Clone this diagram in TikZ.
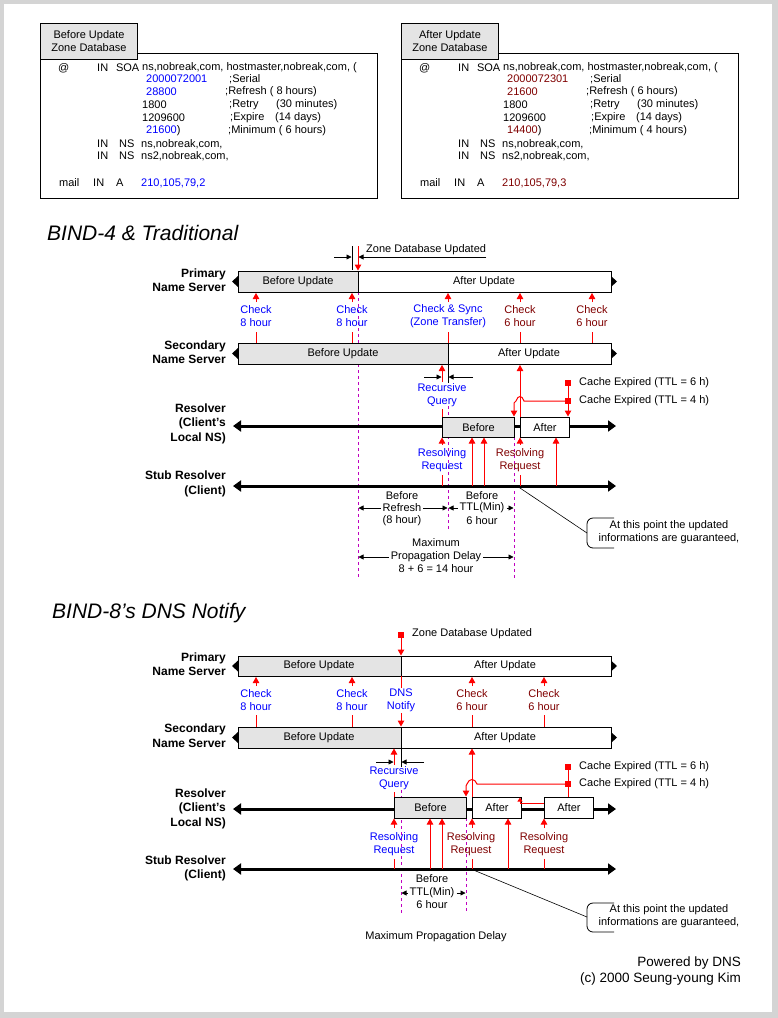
\documentclass[tikz,border=0pt]{standalone}
\usepackage{fontspec}
\setmainfont{Liberation Sans}
\usetikzlibrary{arrows.meta}
\definecolor{bblue}{RGB}{0,0,255}
\definecolor{dred}{RGB}{128,0,0}
\definecolor{rred}{RGB}{255,0,0}
\definecolor{mag}{RGB}{192,0,192}
\definecolor{gfill}{RGB}{228,228,228}
\definecolor{framec}{RGB}{212,212,212}
\newcommand{\zbox}[9]{%
\begin{scope}[shift={(#1,0)}]
\draw[line width=1pt] (40,53) rectangle (377,198);
\node[txt, draw, fill=gfill, line width=1pt, minimum width=97pt, minimum height=36pt, anchor=north west] (tab#1) at (40,23) {#2};
\node[lt] at (58,68) {@};
\node[lt] at (97,68) {IN};
\node[txt, anchor=east] at (139.5,68) {SOA};
\node[lt] at (142,68) {ns,nobreak,com, hostmaster,nobreak,com, (};
\node[lt,text=#3] at (146,79) {#4};
\node[lt] at (229,79) {;Serial};
\node[lt,text=#3] at (146,92) {#5};
\node[lt] at (225,92) {;Refresh ( #6 hours)};
\node[lt] at (142,105) {1800};
\node[lt] at (229,105) {;Retry};
\node[lt] at (276,105) {(30 minutes)};
\node[lt] at (142,118) {1209600};
\node[lt] at (230,118) {;Expire};
\node[lt] at (275,118) {(14 days)};
\node[lt] at (146,131) {\textcolor{#3}{#7})};
\node[lt] at (228,131) {;Minimum ( #8 hours)};
\node[lt] at (97,144) {IN};
\node[lt] at (119,144) {NS};
\node[lt] at (141,144) {ns,nobreak,com,};
\node[lt] at (97,156) {IN};
\node[lt] at (119,156) {NS};
\node[lt] at (141,156) {ns2,nobreak,com,};
\node[lt] at (59,183) {mail};
\node[lt] at (93,183) {IN};
\node[lt] at (116,183) {A};
\node[lt,text=#3] at (141,183) {#9};
\end{scope}}
\newcommand{\tbar}[4]{%
\fill[gfill] (238,#1) rectangle (#4,#3);
\draw[line width=1pt] (238,#1) rectangle (611,#3);
\draw[line width=1pt] (#4,#1) -- (#4,#3);
\fill (238,{#2-5.5}) -- (232,#2) -- (238,{#2+5.5}) -- cycle;
\fill (611,{#2-5.5}) -- (617,#2) -- (611,{#2+5.5}) -- cycle;}
\begin{document}
\begin{tikzpicture}[x=1pt,y=-1pt,
 txt/.style={font=\fontsize{11}{13}\selectfont, inner sep=0pt, align=center},
 lt/.style={txt, anchor=west},
 side/.style={font=\bfseries\fontsize{12}{14.5}\selectfont, inner sep=0pt, align=right, anchor=east},
 ttl/.style={font=\itshape\fontsize{21}{24}\selectfont, inner sep=0pt, anchor=west},
 rline/.style={draw=rred, line width=1pt},
 rarr/.style={rline, -{Triangle[length=6pt,width=6.5pt]}},
 axisline/.style={line width=3pt, {Triangle[length=8pt,width=11pt]}-{Triangle[length=8pt,width=11pt]}},
 dimarr/.style={line width=0.8pt, -{Triangle[length=5pt,width=5pt]}},
 magd/.style={draw=mag, line width=1pt, dash pattern=on 3pt off 3pt},
 boxg/.style={draw, line width=1pt, fill=gfill},
 boxw/.style={draw, line width=1pt, fill=white},
 dimtxt/.style={txt, inner xsep=2pt},
]
\useasboundingbox (0,0) rectangle (778,1018);
\fill[framec] (0,0) rectangle (778,1018);
\fill[white] (4,4) rectangle (772,1012);

% zone boxes
\zbox{0}{Before Update\\Zone Database}{bblue}{2000072001}{28800}{8}{21600}{6}{210,105,79,2}
\zbox{361}{After Update\\Zone Database}{dred}{2000072301}{21600}{6}{14400}{4}{210,105,79,3}

% ================= BIND-4 =================
\node[ttl] (t4) at (47,233) {BIND-4 \& Traditional};

\draw[magd] (358,292) -- (358,578);
\draw[magd] (448,406) -- (448,530);
\draw[magd] (514,437) -- (514,578);

\tbar{271}{281.5}{292}{358}
\tbar{343}{353.5}{364}{448}
\node[txt] (p4b) at (298,281.5) {Before Update};
\node[txt] (p4a) at (484,281.5) {After Update};
\node[txt] (s4b) at (343,353.5) {Before Update};
\node[txt] (s4a) at (529,353.5) {After Update};

\node[side] (p4) at (226,280) {Primary\\Name Server};
\node[side] (s4) at (226,352) {Secondary\\Name Server};
\node[side] (r4) at (226,423.5) {Resolver\\(Client's\\Local NS)};
\node[side] (st4) at (226,484) {Stub Resolver\\(Client)};

% zone database updated
\draw[line width=0.8pt] (352,246) -- (352,270);
\draw[dimarr] (334,257) -- (351.5,257);
\node[lt] (zdu4) at (366,250) {Zone Database Updated};
\draw[dimarr] (zdu4.east |- 0,257) -- (358.5,257);
\draw[rarr] (358,246) -- (358,270.5);

% checks
\foreach \x/\c/\t in {256/bblue/{Check\\8 hour}, 352/bblue/{Check\\8 hour}, 448/bblue/{Check \& Sync\\(Zone Transfer)}, 520/dred/{Check\\6 hour}, 592/dred/{Check\\6 hour}} {
  \draw[rarr] (\x,302) -- (\x,293);
  \node[txt,text=\c] at (\x,316.5) {\t};
  \draw[rline] (\x,332) -- (\x,343);
}

% resolver / stub lines
\draw[axisline] (233,426) -- (616,426);
\draw[axisline] (233,486) -- (616,486);
\node[boxg, minimum width=72pt, minimum height=20pt, inner sep=0pt, anchor=north west, font=\fontsize{11}{13}\selectfont] (rb4) at (442,417) {Before};
\node[boxw, minimum width=49pt, minimum height=20pt, inner sep=0pt, anchor=north west, font=\fontsize{11}{13}\selectfont] (ra4) at (520,417) {After};

% recursive query
\draw[rarr] (442,382) -- (442,365);
\node[txt,text=bblue] (rq4) at (442,395) {Recursive\\Query};
\draw[rline] (442,409) -- (442,417);
\draw[line width=0.8pt] (448,364) -- (448,383);
\draw[dimarr] (424,377) -- (441.5,377);
\draw[dimarr] (473,377) -- (448.5,377);

% resolving requests
\draw[rarr] (442,445) -- (442,437.5);
\node[txt,text=bblue] at (442,460.5) {Resolving\\Request};
\draw[rline] (442,475) -- (442,486);
\draw[rarr] (472,486) -- (472,437.5);
\draw[rarr] (484,486) -- (484,437.5);
\draw[rarr] (520,445) -- (520,437.5);
\node[txt,text=dred] at (520,460.5) {Resolving\\Request};
\draw[rline] (520,475) -- (520,486);
\draw[rarr] (556,486) -- (556,437.5);

% cache expired
\fill[rred] (565,380) rectangle (571,386);
\fill[rred] (565,398) rectangle (571,404);
\node[lt] (ce4a) at (579,383) {Cache Expired (TTL = 6 h)};
\node[lt] (ce4b) at (579,401) {Cache Expired (TTL = 4 h)};
\draw[rarr] (568,386) -- (568,416.5);
\draw[rarr] (565,401) -- (524,401) .. controls (522,395) and (518,395) .. (516,401) -- (514,403) -- (514,416.5);
\draw[rarr] (520,416.5) -- (520,365);

% callout
\draw[line width=0.6pt] (517,486) -- (587,533);
\draw[line width=0.8pt, rounded corners=6pt] (614,518) -- (587,518) -- (587,548) -- (614,548);
\node[txt] (co4) at (669,532.5) {At this point the updated\\informations are guaranteed,};

% dimensions
\node[txt] at (402,496) {Before};
\node[dimtxt] (rf4) at (402,508) {Refresh};
\node[txt] at (402,521) {(8 hour)};
\draw[dimarr] (rf4.west) -- (358.5,508);
\draw[dimarr] (rf4.east) -- (447.5,508);
\node[txt] at (482,496) {Before};
\node[dimtxt] (tt4) at (482,508) {TTL(Min)};
\node[txt] at (482,521) {6 hour};
\draw[dimarr] (tt4.west) -- (448.5,508);
\draw[dimarr] (tt4.east) -- (513.5,508);
\node[txt] at (436,543) {Maximum};
\node[dimtxt] (mp4) at (436,557) {Propagation Delay};
\node[txt] at (436,569) {8 + 6 = 14 hour};
\draw[dimarr] (mp4.west) -- (358.5,557);
\draw[dimarr] (mp4.east) -- (513.5,557);

% ================= BIND-8 =================
\node[ttl] (t8) at (52,613) {BIND-8's DNS Notify};

\draw[magd] (401,790) -- (401,913);
\draw[magd] (466,818) -- (466,913);

\tbar{656}{666}{676}{401}
\tbar{727}{737.5}{748}{401}
\node[txt] (p8b) at (319,666) {Before Update};
\node[txt] (p8a) at (505,666) {After Update};
\node[txt] (s8b) at (319,737.5) {Before Update};
\node[txt] (s8a) at (505,737.5) {After Update};

\node[side] (p8) at (226,664) {Primary\\Name Server};
\node[side] (s8) at (226,735.5) {Secondary\\Name Server};
\node[side] (r8) at (226,808.5) {Resolver\\(Client's\\Local NS)};
\node[side] (st8) at (226,868.5) {Stub Resolver\\(Client)};

% zone database updated
\fill[rred] (398,632) rectangle (404,638);
\node[lt] (zdu8) at (412,634) {Zone Database Updated};
\draw[rarr] (401,638) -- (401,655.5);

% checks
\foreach \x/\c/\t in {256/bblue/{Check\\8 hour}, 352/bblue/{Check\\8 hour}, 472/dred/{Check\\6 hour}, 544/dred/{Check\\6 hour}} {
  \draw[rarr] (\x,686) -- (\x,677);
  \node[txt,text=\c] at (\x,700.5) {\t};
  \draw[rline] (\x,715) -- (\x,727);
}
\draw[rline] (401,676) -- (401,688);
\node[txt,text=bblue] (dn8) at (401,700.5) {DNS\\Notify};
\draw[rarr] (401,713) -- (401,726.5);

% resolver / stub lines
\draw[axisline] (233,809) -- (616,809);
\draw[axisline] (233,869) -- (616,869);
\node[boxg, minimum width=72pt, minimum height=21pt, inner sep=0pt, anchor=north west, font=\fontsize{11}{13}\selectfont] (rb8) at (394,797) {Before};
\node[boxw, minimum width=49pt, minimum height=21pt, inner sep=0pt, anchor=north west, font=\fontsize{11}{13}\selectfont] (ra8) at (472,797) {After};
\node[boxw, minimum width=49pt, minimum height=21pt, inner sep=0pt, anchor=north west, font=\fontsize{11}{13}\selectfont] (rc8) at (544,797) {After};

% recursive query
\draw[rarr] (394,765) -- (394,748.5);
\node[txt,text=bblue] (rq8) at (394,778.5) {Recursive\\Query};
\draw[rline] (394,792) -- (394,797);
\draw[line width=0.8pt] (401,748) -- (401,767);
\draw[dimarr] (376,762) -- (393.5,762);
\draw[dimarr] (424,762) -- (401.5,762);

% resolving requests
\draw[rarr] (394,828) -- (394,818.5);
\node[txt,text=bblue] at (394,844.5) {Resolving\\Request};
\draw[rline] (394,859) -- (394,869);
\draw[rarr] (430,869) -- (430,818.5);
\draw[rarr] (442,869) -- (442,818.5);
\draw[rarr] (472,828) -- (472,818.5);
\node[txt,text=dred] at (471,844.5) {Resolving\\Request};
\draw[rline] (472,859) -- (472,869);
\draw[rarr] (508,869) -- (508,818.5);
\draw[rarr] (544,828) -- (544,818.5);
\node[txt,text=dred] at (544,844.5) {Resolving\\Request};
\draw[rline] (544,859) -- (544,869);

% cache expired
\fill[rred] (565,764) rectangle (571,770);
\fill[rred] (565,781) rectangle (571,787);
\node[lt] (ce8a) at (579,767) {Cache Expired (TTL = 6 h)};
\node[lt] (ce8b) at (579,784) {Cache Expired (TTL = 4 h)};
\draw[rline] (568,770) -- (568,797);
\draw[rarr] (565,784) -- (477,784) .. controls (475,778) and (469,778) .. (467,784) -- (466,786) -- (466,796.5);
\draw[rarr] (472,796.5) -- (472,748.5);
\draw[rline, -{Triangle[length=4pt,width=5pt]}] (544,803) -- (520,803) -- (520,797.5);

% callout
\draw[line width=0.6pt] (471,869) -- (587,917);
\draw[line width=0.8pt, rounded corners=6pt] (614,903) -- (587,903) -- (587,932) -- (614,932);
\node[txt] (co8) at (669,916.5) {At this point the updated\\informations are guaranteed,};

% dimensions
\node[txt] at (432,879) {Before};
\node[dimtxt] (tt8) at (432,893) {TTL(Min)};
\node[txt] at (432,905) {6 hour};
\draw[dimarr] (tt8.west) -- (401.5,893);
\draw[dimarr] (tt8.east) -- (465.5,893);
\node[txt] (mp8) at (436,937) {Maximum Propagation Delay};

% footer
\node[txt, anchor=east, font=\fontsize{13.5}{16}\selectfont] (pw) at (741,963) {Powered by DNS};
\node[txt, anchor=east, font=\fontsize{13.5}{16}\selectfont] (cp) at (741,979) {(c) 2000 Seung-young Kim};
\end{tikzpicture}
\end{document}
